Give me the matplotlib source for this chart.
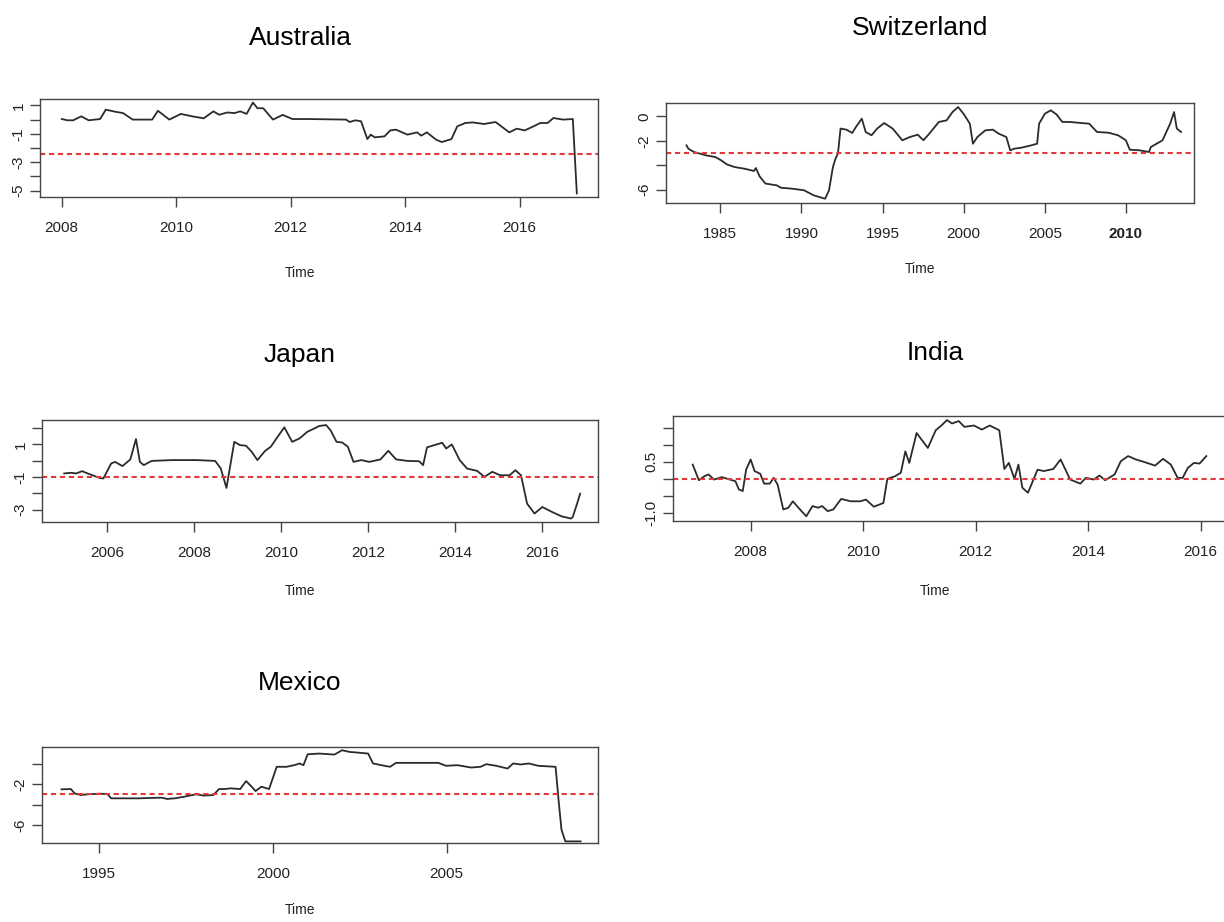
import matplotlib
matplotlib.use("Agg")
import matplotlib.pyplot as plt

plt.rcParams['font.family'] = ['Liberation Sans', 'DejaVu Sans']

# values, (year, value) pairs
aus_t = [2008.0, 2008.1, 2008.2, 2008.34, 2008.47, 2008.67, 2008.77, 2008.94, 2009.07, 2009.24,
         2009.58, 2009.68, 2009.88, 2010.08, 2010.28, 2010.48, 2010.65, 2010.75, 2010.89, 2011.02,
         2011.12, 2011.23, 2011.34, 2011.42, 2011.52, 2011.69, 2011.86, 2012.03, 2012.3, 2012.97,
         2013.03, 2013.13, 2013.23, 2013.34, 2013.4, 2013.47, 2013.64, 2013.74, 2013.84, 2014.04,
         2014.21, 2014.28, 2014.38, 2014.54, 2014.64, 2014.81, 2014.91, 2015.05, 2015.18, 2015.38,
         2015.58, 2015.82, 2015.95, 2016.09, 2016.22, 2016.36, 2016.49, 2016.59, 2016.76, 2016.93,
         2017.0]
aus_v = [0.04, -0.05, -0.05, 0.23, -0.05, 0.04, 0.7, 0.55, 0.46, 0.0,
         0.0, 0.62, 0.0, 0.4, 0.23, 0.09, 0.58, 0.34, 0.5, 0.46,
         0.58, 0.4, 1.2, 0.8, 0.8, 0.0, 0.33, 0.04, 0.04, 0.0,
         -0.17, -0.05, -0.12, -1.37, -1.06, -1.25, -1.18, -0.76, -0.71, -1.06,
         -0.9, -1.13, -0.9, -1.41, -1.58, -1.37, -0.48, -0.24, -0.2, -0.31,
         -0.17, -0.9, -0.64, -0.76, -0.52, -0.24, -0.24, 0.11, 0.0, 0.04,
         -5.2]

swi_t = [1982.91, 1983.03, 1983.38, 1983.74, 1984.1, 1984.69, 1985.05, 1985.4, 1985.88, 1986.47,
         1987.07, 1987.19, 1987.42, 1987.78, 1988.49, 1988.73, 1989.44, 1990.16, 1990.75, 1991.23,
         1991.46, 1991.7, 1991.94, 1992.1, 1992.25, 1992.41, 1992.77, 1993.13, 1993.36, 1993.72,
         1993.96, 1994.32, 1994.67, 1995.1, 1995.62, 1996.22, 1996.69, 1997.17, 1997.52, 1997.88,
         1998.47, 1998.95, 1999.31, 1999.66, 2000.02, 2000.38, 2000.57, 2000.85, 2001.33, 2001.8,
         2002.16, 2002.63, 2002.87, 2003.11, 2003.58, 2004.18, 2004.53, 2004.65, 2005.01, 2005.37,
         2005.72, 2006.08, 2006.55, 2007.27, 2007.74, 2008.22, 2008.93, 2009.52, 2010.0, 2010.24,
         2010.83, 2011.43, 2011.54, 2012.26, 2012.73, 2012.97, 2013.14, 2013.4]
swi_v = [-2.37, -2.65, -2.92, -3.05, -3.19, -3.33, -3.6, -3.93, -4.15, -4.28,
         -4.47, -4.23, -4.91, -5.5, -5.65, -5.84, -5.92, -6.05, -6.46, -6.65,
         -6.74, -6.05, -4.15, -3.46, -3.05, -1.0, -1.09, -1.36, -0.87, -0.19,
         -1.28, -1.55, -1.0, -0.55, -1.0, -1.96, -1.69, -1.5, -1.96, -1.42,
         -0.46, -0.33, 0.35, 0.76, 0.16, -0.6, -2.24, -1.69, -1.15, -1.09,
         -1.42, -1.69, -2.78, -2.65, -2.56, -2.37, -2.24, -0.6, 0.22, 0.49,
         0.16, -0.46, -0.46, -0.55, -0.6, -1.28, -1.34, -1.55, -1.96, -2.73,
         -2.78, -2.92, -2.51, -1.96, -0.6, 0.35, -1.0, -1.28]

jpn_t = [2005.01, 2005.16, 2005.29, 2005.42, 2005.6, 2005.82, 2005.91, 2006.09, 2006.18, 2006.35,
         2006.53, 2006.66, 2006.75, 2006.84, 2007.02, 2007.5, 2008.04, 2008.48, 2008.61, 2008.74,
         2008.92, 2009.05, 2009.19, 2009.32, 2009.45, 2009.63, 2009.76, 2009.89, 2010.07, 2010.25,
         2010.42, 2010.6, 2010.73, 2010.87, 2011.03, 2011.13, 2011.27, 2011.4, 2011.53, 2011.66,
         2011.84, 2012.02, 2012.28, 2012.46, 2012.64, 2012.9, 2013.17, 2013.26, 2013.35, 2013.52,
         2013.7, 2013.79, 2013.92, 2014.1, 2014.27, 2014.5, 2014.67, 2014.85, 2015.03, 2015.25,
         2015.38, 2015.51, 2015.65, 2015.82, 2016.0, 2016.22, 2016.44, 2016.66, 2016.7, 2016.8,
         2016.87]
jpn_v = [-0.78, -0.74, -0.78, -0.64, -0.83, -1.05, -1.09, -0.17, -0.07, -0.33,
         0.08, 1.33, -0.07, -0.27, -0.01, 0.04, 0.04, -0.01, -0.48, -1.67,
         1.16, 0.96, 0.92, 0.55, 0.04, 0.61, 0.86, 1.37, 2.05, 1.16,
         1.37, 1.78, 1.94, 2.13, 2.19, 1.88, 1.16, 1.12, 0.86, -0.07,
         0.04, -0.07, 0.08, 0.61, 0.08, -0.01, -0.03, -0.27, 0.82, 0.96,
         1.1, 0.75, 1.0, 0.04, -0.48, -0.62, -0.99, -0.68, -0.89, -0.89,
         -0.58, -0.89, -2.63, -3.24, -2.84, -3.14, -3.41, -3.55, -3.45, -2.63,
         -2.02]

ind_t = [2006.97, 2007.08, 2007.18, 2007.25, 2007.35, 2007.49, 2007.59, 2007.73, 2007.79, 2007.86,
         2007.92, 2008.0, 2008.07, 2008.17, 2008.24, 2008.34, 2008.41, 2008.48, 2008.58, 2008.67,
         2008.75, 2008.92, 2008.99, 2009.1, 2009.2, 2009.27, 2009.37, 2009.47, 2009.61, 2009.78,
         2009.95, 2010.05, 2010.19, 2010.36, 2010.43, 2010.57, 2010.67, 2010.75, 2010.82, 2010.95,
         2011.15, 2011.29, 2011.39, 2011.49, 2011.58, 2011.7, 2011.8, 2011.97, 2012.11, 2012.25,
         2012.42, 2012.51, 2012.59, 2012.69, 2012.76, 2012.83, 2012.93, 2013.1, 2013.21, 2013.38,
         2013.51, 2013.68, 2013.86, 2013.96, 2014.1, 2014.2, 2014.3, 2014.47, 2014.58, 2014.71,
         2014.85, 2014.99, 2015.19, 2015.33, 2015.47, 2015.59, 2015.68, 2015.77, 2015.88, 2015.98,
         2016.1]
ind_v = [0.42, -0.04, 0.08, 0.13, -0.02, 0.05, 0.0, -0.07, -0.31, -0.36,
         0.27, 0.57, 0.23, 0.15, -0.14, -0.14, 0.03, -0.17, -0.9, -0.85,
         -0.66, -0.98, -1.1, -0.8, -0.85, -0.8, -0.95, -0.9, -0.59, -0.66,
         -0.66, -0.61, -0.82, -0.71, 0.0, 0.08, 0.18, 0.81, 0.47, 1.35,
         0.91, 1.43, 1.57, 1.73, 1.63, 1.7, 1.53, 1.57, 1.45, 1.57,
         1.43, 0.29, 0.47, 0.0, 0.42, -0.26, -0.41, 0.27, 0.23, 0.29,
         0.57, -0.02, -0.14, 0.03, -0.02, 0.1, -0.04, 0.13, 0.52, 0.67,
         0.57, 0.5, 0.39, 0.59, 0.42, 0.03, 0.03, 0.32, 0.47, 0.45,
         0.67]

mex_t = [1993.92, 1994.19, 1994.3, 1994.47, 1994.69, 1995.02, 1995.24, 1995.35, 1995.58, 1996.13,
         1996.79, 1996.96, 1997.18, 1997.46, 1997.79, 1998.01, 1998.29, 1998.45, 1998.62, 1998.78,
         1999.06, 1999.23, 1999.39, 1999.5, 1999.67, 1999.89, 2000.11, 2000.39, 2000.61, 2000.77,
         2000.88, 2001.0, 2001.33, 2001.77, 2001.99, 2002.21, 2002.43, 2002.74, 2002.88, 2003.21,
         2003.37, 2003.54, 2004.09, 2004.76, 2004.98, 2005.31, 2005.7, 2005.97, 2006.14, 2006.42,
         2006.75, 2006.91, 2007.13, 2007.36, 2007.63, 2008.13, 2008.22, 2008.3, 2008.41, 2008.85]
mex_v = [-2.49, -2.46, -2.89, -3.05, -2.98, -2.92, -2.95, -3.38, -3.38, -3.38,
         -3.31, -3.44, -3.38, -3.21, -2.98, -3.11, -3.05, -2.46, -2.46, -2.39,
         -2.46, -1.67, -2.23, -2.66, -2.23, -2.46, -0.26, -0.26, -0.1, 0.07,
         -0.1, 0.98, 1.05, 0.95, 1.38, 1.21, 1.15, 1.05, 0.07, -0.16,
         -0.26, 0.13, 0.13, 0.13, -0.16, -0.1, -0.33, -0.26, 0.0, -0.16,
         -0.43, 0.07, -0.03, 0.07, -0.16, -0.26, -3.7, -6.49, -7.64, -7.64]

titles = ['Australia', 'Switzerland', 'Japan', 'India', 'Mexico']
thresholds = [-2.4, -3.0, -1.0, 0.0, -3.0]
x_ticks = [[2008, 2010, 2012, 2014, 2016],
           [1985, 1990, 1995, 2000, 2005, 2010],
           [2006, 2008, 2010, 2012, 2014, 2016],
           [2008, 2010, 2012, 2014, 2016],
           [1995, 2000, 2005]]
y_ticks = [[1, 0, -1, -2, -3, -4, -5],
           [0, -2, -4, -6],
           [2, 1, 0, -1, -2, -3],
           [1.5, 1.0, 0.5, 0.0, -0.5, -1.0],
           [0, -2, -4, -6]]
y_labels = [['1', '', '-1', '', '-3', '', '-5'],
            ['0', '-2', '', '-6'],
            ['', '1', '', '-1', '', '-3'],
            ['', '', '0.5', '', '', '-1.0'],
            ['', '-2', '', '-6']]

series = [(aus_t, aus_v), (swi_t, swi_v), (jpn_t, jpn_v), (ind_t, ind_v), (mex_t, mex_v)]

W, H = 1224, 922
# panel boxes in pixels: left, top, right, bottom
boxes = [(40, 99, 598, 197), (666, 103, 1194, 203), (42, 420, 598, 522),
         (673, 416, 1226, 521), (42, 747, 598, 843)]
xlims = [(2007.62, 2017.37), (1981.65, 2014.2), (2004.5, 2017.28),
         (2006.62, 2016.45), (1993.36, 2009.35)]
ylims = [(-5.45, 1.45), (-7.09, 1.09), (-3.76, 2.5), (-1.24, 1.85), (-7.8, 1.7)]
title_pos = [(300, 38), (920, 28), (300, 355), (935, 353), (300, 683)]
time_pos = [(300, 273), (920, 269), (300, 591), (935, 591), (300, 910)]

fig = plt.figure(figsize=(W / 100, H / 100), dpi=100)

for i in range(5):
    l, t, r, b = boxes[i]
    ax = fig.add_axes([l / W, 1 - b / H, (r - l) / W, (b - t) / H])
    ax.plot(series[i][0], series[i][1], color='#2b2b2b', lw=1.3)
    ax.axhline(thresholds[i], color='#e03a3a', lw=1.5, ls=(0, (2.5, 1.8)))
    ax.set_xlim(*xlims[i])
    ax.set_ylim(*ylims[i])
    ax.set_xticks(x_ticks[i])
    ax.set_xticklabels([str(v) for v in x_ticks[i]], fontsize=11, color='#222222')
    ax.set_yticks(y_ticks[i])
    ax.set_yticklabels(y_labels[i], fontsize=11, rotation=90, va='center', color='#222222')
    ax.tick_params(axis='x', length=7.5, width=1, color='#444444', pad=10)
    ax.tick_params(axis='y', length=7.5, width=1, color='#444444', pad=3)
    for s in ax.spines.values():
        s.set_color('#444444')
        s.set_linewidth(1.0)
    if titles[i] == 'Switzerland':
        ax.get_xticklabels()[-1].set_fontweight('bold')
    fig.text(title_pos[i][0] / W, 1 - title_pos[i][1] / H, titles[i],
             ha='center', va='center', fontsize=19)
    fig.text(time_pos[i][0] / W, 1 - time_pos[i][1] / H, 'Time',
             ha='center', va='center', fontsize=10, color='#222222')

fig.savefig('out.png', dpi=100)
